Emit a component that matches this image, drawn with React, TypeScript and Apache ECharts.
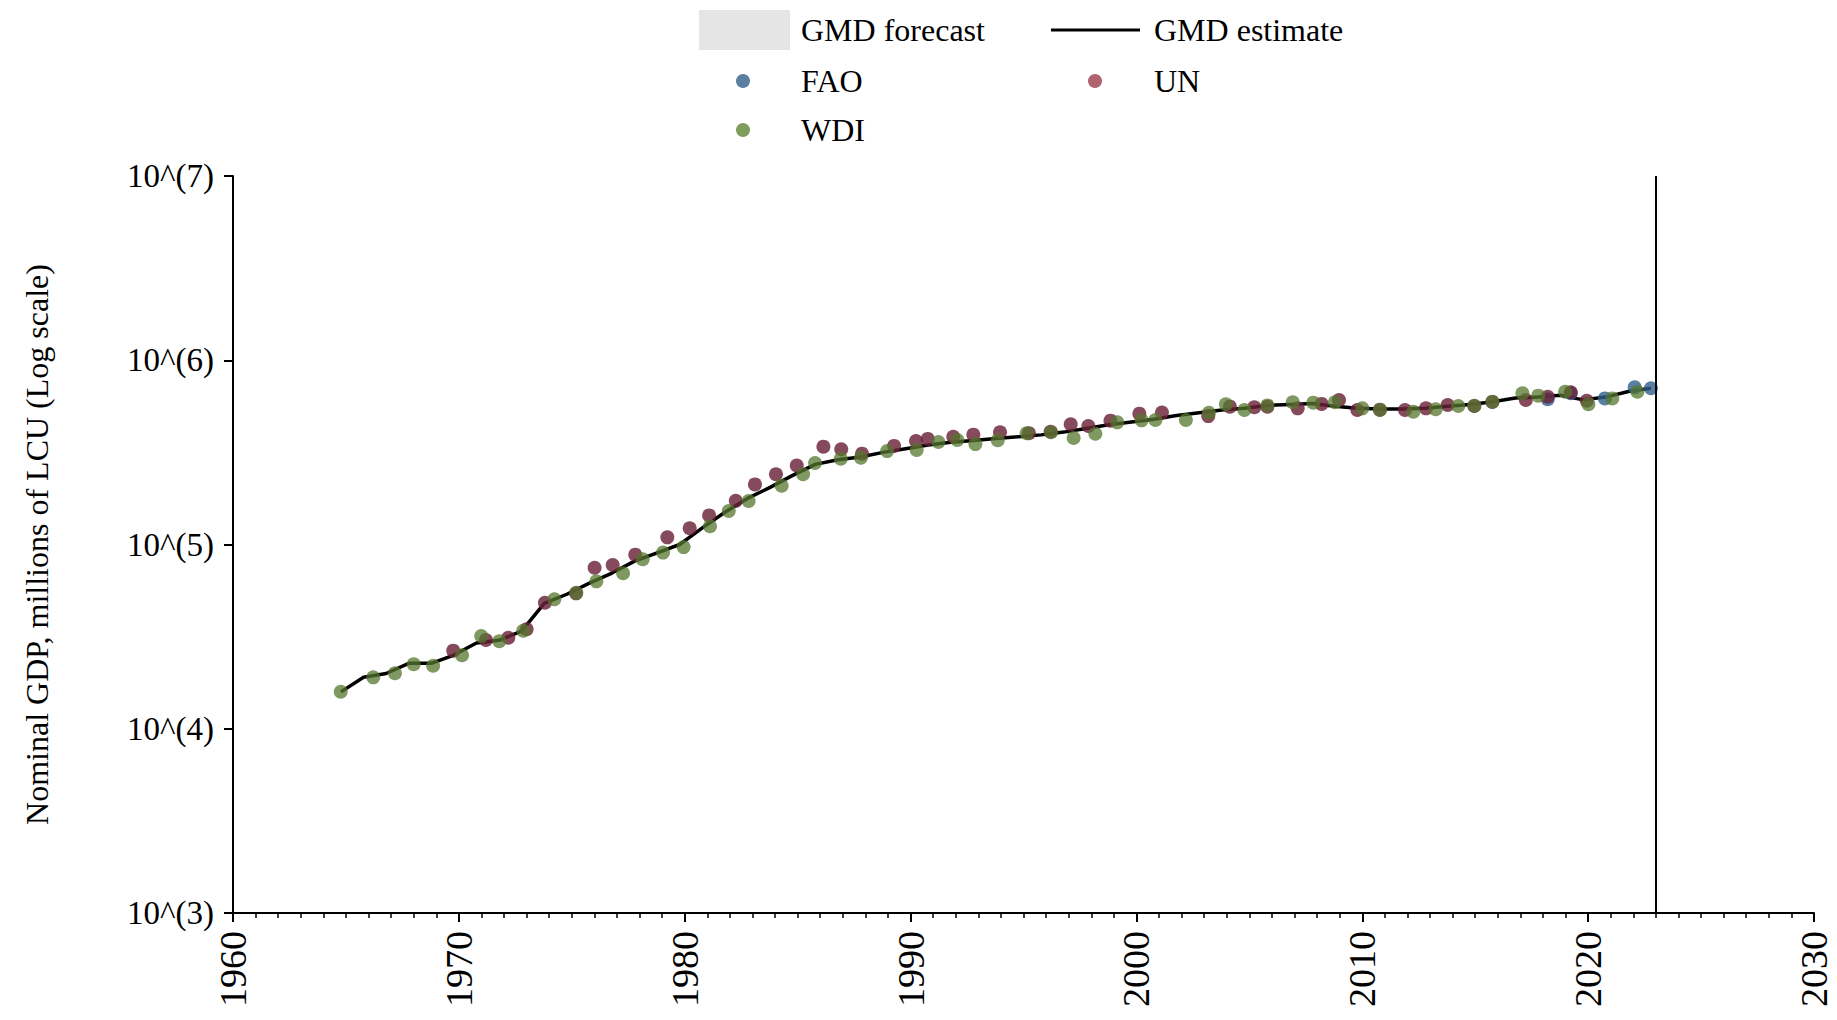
import { useEffect, useRef } from "react";
import * as echarts from "echarts";

const FONT = "'Liberation Serif', 'Times New Roman', serif";

// GMD estimate line (year, log10 of value)
const lineYears = [
  1964.78, 1965.78, 1966.78, 1967.78, 1968.78, 1969.78, 1970.78, 1971.78, 1972.78, 1973.78,
  1974.78, 1975.78, 1976.78, 1977.78, 1978.78, 1979.78, 1980.78, 1981.78, 1982.78, 1983.78,
  1984.78, 1985.78, 1986.78, 1987.78, 1988.78, 1989.78, 1990.78, 1991.78, 1992.78, 1993.78,
  1994.78, 1995.78, 1996.78, 1997.78, 1998.78, 1999.78, 2000.78, 2001.78, 2002.78, 2003.78,
  2004.78, 2005.78, 2006.78, 2007.78, 2008.78, 2009.78, 2010.78, 2011.78, 2012.78, 2013.78,
  2014.78, 2015.78, 2016.78, 2017.78, 2018.78, 2019.78, 2020.78, 2021.78, 2022.78,
];
const lineLog = [
  4.2, 4.28, 4.3, 4.355, 4.355, 4.4, 4.465, 4.48, 4.53, 4.68,
  4.73, 4.79, 4.845, 4.91, 4.955, 5.0, 5.09, 5.175, 5.25, 5.31,
  5.375, 5.435, 5.46, 5.475, 5.5, 5.52, 5.54, 5.555, 5.565, 5.575,
  5.585, 5.595, 5.61, 5.63, 5.65, 5.665, 5.68, 5.7, 5.715, 5.73,
  5.74, 5.755, 5.76, 5.765, 5.75, 5.74, 5.735, 5.735, 5.74, 5.75,
  5.76, 5.775, 5.795, 5.8, 5.81, 5.785, 5.8, 5.83, 5.848,
];

// WDI points
const wdiYears = [
  1964.77, 1966.21, 1967.17, 1968.0, 1968.86, 1970.14, 1970.99, 1971.79, 1972.85, 1974.23,
  1975.2, 1976.09, 1977.27, 1978.14, 1979.04, 1979.95, 1981.12, 1981.95, 1982.83, 1984.29,
  1985.24, 1985.77, 1986.91, 1987.8, 1988.96, 1990.27, 1991.23, 1992.07, 1992.87, 1993.86,
  1995.14, 1996.22, 1997.22, 1998.18, 1999.15, 2000.23, 2000.84, 2002.19, 2003.21, 2003.96,
  2004.78, 2005.8, 2006.92, 2007.83, 2008.79, 2010.0, 2010.78, 2012.26, 2013.25, 2014.25,
  2014.96, 2015.76, 2017.09, 2017.79, 2018.98, 2020.01, 2021.07, 2022.18,
];
const wdiLog = [
  4.201, 4.279, 4.301, 4.35, 4.342, 4.399, 4.503, 4.475, 4.532, 4.703,
  4.738, 4.8, 4.844, 4.92, 4.956, 4.986, 5.099, 5.182, 5.236, 5.319,
  5.381, 5.442, 5.466, 5.471, 5.507, 5.513, 5.556, 5.567, 5.545, 5.566,
  5.604, 5.609, 5.578, 5.601, 5.663, 5.674, 5.676, 5.676, 5.715, 5.761,
  5.73, 5.755, 5.772, 5.77, 5.772, 5.739, 5.73, 5.721, 5.734, 5.752,
  5.753, 5.775, 5.821, 5.808, 5.829, 5.761, 5.793, 5.829,
];

// UN points
const unYears = [
  1969.75, 1971.2, 1972.19, 1973.0, 1973.81, 1975.19, 1976.01, 1976.81, 1977.81, 1979.23,
  1980.22, 1981.08, 1982.26, 1983.11, 1984.04, 1984.96, 1986.14, 1986.93, 1987.85, 1989.27,
  1990.24, 1990.76, 1991.89, 1992.78, 1993.96, 1995.24, 1996.2, 1997.09, 1997.87, 1998.85,
  2000.13, 2001.13, 2003.18, 2004.14, 2005.22, 2005.8, 2007.14, 2008.2, 2008.97, 2009.78,
  2010.78, 2011.89, 2012.82, 2013.78, 2014.96, 2015.76, 2017.24, 2018.21, 2019.23, 2019.94,
];
const unLog = [
  4.424, 4.482, 4.494, 4.54, 4.684, 4.735, 4.874, 4.889, 4.945, 5.039,
  5.088, 5.158, 5.237, 5.326, 5.381, 5.429, 5.531, 5.517, 5.493, 5.535,
  5.562, 5.573, 5.585, 5.596, 5.609, 5.604, 5.612, 5.652, 5.643, 5.672,
  5.71, 5.716, 5.697, 5.748, 5.745, 5.748, 5.739, 5.763, 5.784, 5.73,
  5.732, 5.73, 5.739, 5.757, 5.752, 5.774, 5.784, 5.802, 5.826, 5.78,
];

// FAO points
const faoYears = [2018.21, 2019.23, 2020.74, 2022.06, 2022.78];
const faoLog = [5.788, 5.821, 5.793, 5.853, 5.848];

const yTickPowers = [3, 4, 5, 6, 7];
const lastEstimateYear = 2023;

const pairs = (xs: number[], logs: number[]) => xs.map((x, i) => [x, Math.pow(10, logs[i])]);

export default function App() {
  const ref = useRef<HTMLDivElement>(null);
  useEffect(() => {
    const chart = echarts.init(ref.current!, null, { renderer: "svg" });
    const textBase = { fontFamily: FONT, fontSize: 32, fill: "#000" };
    chart.setOption({
      animation: false,
      backgroundColor: "#fff",
      grid: { left: 233, right: 23, top: 176, bottom: 107 },
      xAxis: {
        type: "value",
        min: 1960,
        max: 2030,
        interval: 10,
        axisLine: { show: true, onZero: false, lineStyle: { color: "#000", width: 2 } },
        axisTick: { show: true, length: 9, lineStyle: { color: "#000", width: 2 } },
        minorTick: { show: true, splitNumber: 10, length: 5, lineStyle: { color: "#000", width: 1.5 } },
        splitLine: { show: false },
        axisLabel: {
          rotate: 90,
          fontSize: 38,
          color: "#000",
          fontFamily: FONT,
          margin: 18,
          formatter: (v: number) => String(v),
        },
      },
      yAxis: {
        type: "log",
        logBase: 10,
        min: Math.pow(10, yTickPowers[0]),
        max: Math.pow(10, yTickPowers[yTickPowers.length - 1]),
        axisLine: { show: true, lineStyle: { color: "#000", width: 2 } },
        axisTick: { show: true, length: 9, lineStyle: { color: "#000", width: 2 } },
        splitLine: { show: false },
        axisLabel: {
          fontSize: 33,
          color: "#000",
          fontFamily: FONT,
          margin: 19,
          formatter: (v: number) => `10^(${Math.round(Math.log10(v))})`,
        },
        name: "Nominal GDP, millions of LCU (Log scale)",
        nameLocation: "middle",
        nameGap: 180,
        nameTextStyle: { fontSize: 32, color: "#000", fontFamily: FONT },
      },
      series: [
        {
          name: "GMD estimate",
          type: "line",
          data: pairs(lineYears, lineLog),
          showSymbol: false,
          lineStyle: { color: "#000", width: 3.5 },
          itemStyle: { color: "#000" },
          z: 2,
          markLine: {
            silent: true,
            symbol: "none",
            label: { show: false },
            lineStyle: { color: "#000", width: 2, type: "solid" },
            data: [{ xAxis: lastEstimateYear }],
          },
        },
        {
          name: "FAO",
          type: "scatter",
          data: pairs(faoYears, faoLog),
          symbolSize: 14,
          itemStyle: { color: "#2f5f8f", opacity: 0.8 },
          z: 3,
        },
        {
          name: "UN",
          type: "scatter",
          data: pairs(unYears, unLog),
          symbolSize: 14,
          itemStyle: { color: "#6a2238", opacity: 0.82 },
          z: 4,
        },
        {
          name: "WDI",
          type: "scatter",
          data: pairs(wdiYears, wdiLog),
          symbolSize: 14,
          itemStyle: { color: "#55772f", opacity: 0.75 },
          z: 5,
        },
      ],
      graphic: [
        { type: "rect", shape: { x: 699, y: 10, width: 91, height: 40 }, style: { fill: "#e5e5e5" } },
        { type: "text", x: 801, y: 30, style: { ...textBase, text: "GMD forecast", verticalAlign: "middle" } },
        { type: "line", shape: { x1: 1051, y1: 30, x2: 1140, y2: 30 }, style: { stroke: "#000", lineWidth: 3 } },
        { type: "text", x: 1154, y: 30, style: { ...textBase, text: "GMD estimate", verticalAlign: "middle" } },
        { type: "circle", shape: { cx: 743, cy: 81, r: 7 }, style: { fill: "#5a7fa0" } },
        { type: "text", x: 801, y: 81, style: { ...textBase, text: "FAO", verticalAlign: "middle" } },
        { type: "circle", shape: { cx: 1095, cy: 81, r: 7 }, style: { fill: "#b06470" } },
        { type: "text", x: 1154, y: 81, style: { ...textBase, text: "UN", verticalAlign: "middle" } },
        { type: "circle", shape: { cx: 743, cy: 130, r: 7 }, style: { fill: "#7f9e5e" } },
        { type: "text", x: 801, y: 130, style: { ...textBase, text: "WDI", verticalAlign: "middle" } },
      ],
    });
    return () => chart.dispose();
  }, []);
  return (
    <div
      ref={ref}
      style={{ position: "absolute", left: 0, top: 0, width: 1837, height: 1020 }}
    />
  );
}
